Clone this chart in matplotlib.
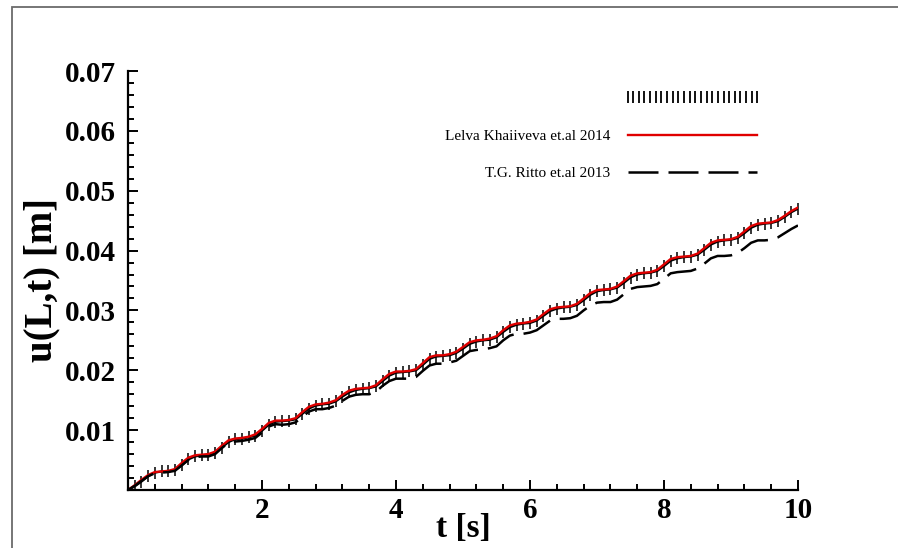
import numpy as np
import matplotlib
matplotlib.use("Agg")
import matplotlib.pyplot as plt
from matplotlib.lines import Line2D
from matplotlib.patches import Rectangle
from matplotlib.ticker import MultipleLocator, FixedLocator

# sampled every 0.1 s from t = 0 to t = 10
t = np.linspace(0, 10, 101)

u_marker = [0.0, 0.0006, 0.0014, 0.0023, 0.0029, 0.0031, 0.0031, 0.0033, 0.0041, 0.0051,
            0.0056, 0.0058, 0.0059, 0.0062, 0.0071, 0.0080, 0.0085, 0.0086, 0.0088, 0.0091,
            0.0099, 0.0109, 0.0114, 0.0115, 0.0116, 0.0118, 0.0127, 0.0136, 0.0141, 0.0143,
            0.0144, 0.0148, 0.0156, 0.0163, 0.0167, 0.0169, 0.0170, 0.0173, 0.0182, 0.0191,
            0.0196, 0.0197, 0.0198, 0.0200, 0.0209, 0.0219, 0.0223, 0.0224, 0.0225, 0.0229,
            0.0236, 0.0244, 0.0248, 0.0250, 0.0251, 0.0255, 0.0264, 0.0272, 0.0276, 0.0278,
            0.0279, 0.0283, 0.0291, 0.0299, 0.0303, 0.0305, 0.0306, 0.0309, 0.0317, 0.0326,
            0.0332, 0.0334, 0.0335, 0.0338, 0.0346, 0.0355, 0.0360, 0.0362, 0.0363, 0.0366,
            0.0374, 0.0383, 0.0387, 0.0389, 0.0390, 0.0393, 0.0401, 0.0410, 0.0415, 0.0417,
            0.0418, 0.0421, 0.0429, 0.0438, 0.0443, 0.0445, 0.0446, 0.0449, 0.0456, 0.0464,
            0.0470]

u_khaiiveva = [0.0, 0.0008, 0.0017, 0.0025, 0.0030, 0.0031, 0.0032, 0.0035, 0.0045, 0.0054,
               0.0058, 0.0059, 0.0060, 0.0064, 0.0074, 0.0083, 0.0086, 0.0087, 0.0089, 0.0093,
               0.0102, 0.0112, 0.0116, 0.0116, 0.0117, 0.0120, 0.0130, 0.0139, 0.0143, 0.0144,
               0.0146, 0.0150, 0.0159, 0.0166, 0.0169, 0.0170, 0.0171, 0.0175, 0.0185, 0.0194,
               0.0198, 0.0198, 0.0199, 0.0202, 0.0212, 0.0222, 0.0225, 0.0225, 0.0227, 0.0231,
               0.0239, 0.0247, 0.0250, 0.0251, 0.0253, 0.0257, 0.0267, 0.0275, 0.0278, 0.0279,
               0.0281, 0.0285, 0.0294, 0.0302, 0.0305, 0.0306, 0.0307, 0.0311, 0.0320, 0.0329,
               0.0334, 0.0335, 0.0336, 0.0340, 0.0349, 0.0358, 0.0362, 0.0363, 0.0364, 0.0368,
               0.0377, 0.0386, 0.0389, 0.0390, 0.0391, 0.0395, 0.0404, 0.0413, 0.0417, 0.0418,
               0.0419, 0.0423, 0.0432, 0.0441, 0.0445, 0.0446, 0.0447, 0.0451, 0.0458, 0.0466,
               0.0472]

u_ritto = [0.0, 0.0007, 0.0015, 0.0023, 0.0028, 0.0029, 0.0030, 0.0032, 0.0041, 0.0050,
           0.0055, 0.0056, 0.0056, 0.0060, 0.0070, 0.0079, 0.0081, 0.0082, 0.0084, 0.0087,
           0.0096, 0.0106, 0.0110, 0.0109, 0.0110, 0.0113, 0.0122, 0.0131, 0.0135, 0.0135,
           0.0137, 0.0141, 0.0149, 0.0156, 0.0159, 0.0160, 0.0160, 0.0164, 0.0174, 0.0182,
           0.0186, 0.0186, 0.0186, 0.0189, 0.0199, 0.0208, 0.0211, 0.0211, 0.0213, 0.0216,
           0.0224, 0.0232, 0.0234, 0.0235, 0.0237, 0.0240, 0.0250, 0.0258, 0.0261, 0.0261,
           0.0263, 0.0267, 0.0275, 0.0283, 0.0286, 0.0286, 0.0287, 0.0291, 0.0300, 0.0308,
           0.0313, 0.0314, 0.0314, 0.0318, 0.0327, 0.0336, 0.0339, 0.0340, 0.0341, 0.0344,
           0.0353, 0.0362, 0.0364, 0.0365, 0.0366, 0.0370, 0.0378, 0.0387, 0.0391, 0.0391,
           0.0392, 0.0396, 0.0404, 0.0413, 0.0417, 0.0417, 0.0418, 0.0422, 0.0429, 0.0436,
           0.0442]

label_khaiiveva = "Lelva Khaiiveva et.al 2014"
label_ritto = "T.G. Ritto et.al 2013"

x_major = [2, 4, 6, 8, 10]
y_major = [0.01, 0.02, 0.03, 0.04, 0.05, 0.06, 0.07]

serif = "Liberation Serif"

fig = plt.figure(figsize=(8.98, 5.48), dpi=100)
ax = fig.add_axes([128 / 898, 58 / 548, 670 / 898, 419 / 548])

# outer frame of the exported picture
fig.patches.append(Rectangle((12 / 898, -0.2), 1.0, 1.2 - 7 / 548,
                             transform=fig.transFigure, fill=False,
                             ec="#6b6b6b", lw=1.3))

ax.plot(t, u_marker, color="black", lw=1.6, marker="|", ms=8, mew=1.1)
ax.plot(t, u_khaiiveva, color="#e00000", lw=1.7)
ritto_line, = ax.plot(t, u_ritto, color="black", lw=1.8)
ritto_line.set_dashes((12, 4))

ax.set_xlim(0, 10)
ax.set_ylim(0, 0.07)
ax.spines["top"].set_visible(False)
ax.spines["right"].set_visible(False)
ax.spines["left"].set_linewidth(1.6)
ax.spines["bottom"].set_linewidth(1.6)

ax.xaxis.set_major_locator(FixedLocator(x_major))
ax.xaxis.set_minor_locator(MultipleLocator(0.4))
ax.yaxis.set_major_locator(FixedLocator(y_major))
ax.yaxis.set_minor_locator(MultipleLocator(0.002))
ax.set_xticklabels([str(v) for v in x_major])
ax.set_yticklabels([f"{v:.2f}" for v in y_major])
ax.tick_params(which="both", direction="in", width=1.4)
ax.tick_params(which="major", length=7)
ax.tick_params(which="minor", length=4.5)
ax.tick_params(axis="y", pad=9)
ax.tick_params(axis="x", pad=5)
for lab in ax.get_xticklabels() + ax.get_yticklabels():
    lab.set_fontfamily(serif)
    lab.set_fontweight("bold")
    lab.set_fontsize(21)

ax.set_xlabel("t [s]", fontfamily=serif, fontweight="bold", fontsize=24, labelpad=-8)
ax.set_ylabel("u(L,t) [m]", fontfamily=serif, fontweight="bold", fontsize=28, labelpad=3)

handles = [
    Line2D([], [], ls="none", marker="|", color="black", ms=8, mew=1.3),
    Line2D([], [], color="#e00000", lw=1.7),
    Line2D([], [], color="black", lw=1.8, dashes=(12, 4)),
]
fig.legend(handles, [" ", label_khaiiveva, label_ritto],
           loc="upper right", bbox_to_anchor=(762 / 898, 1 - 92 / 548),
           frameon=False, markerfirst=False, numpoints=24,
           handlelength=9.1, handletextpad=0.85, labelspacing=1.55,
           borderpad=0, borderaxespad=0,
           prop={"family": serif, "size": 11})

fig.savefig("out.png", dpi=100)
